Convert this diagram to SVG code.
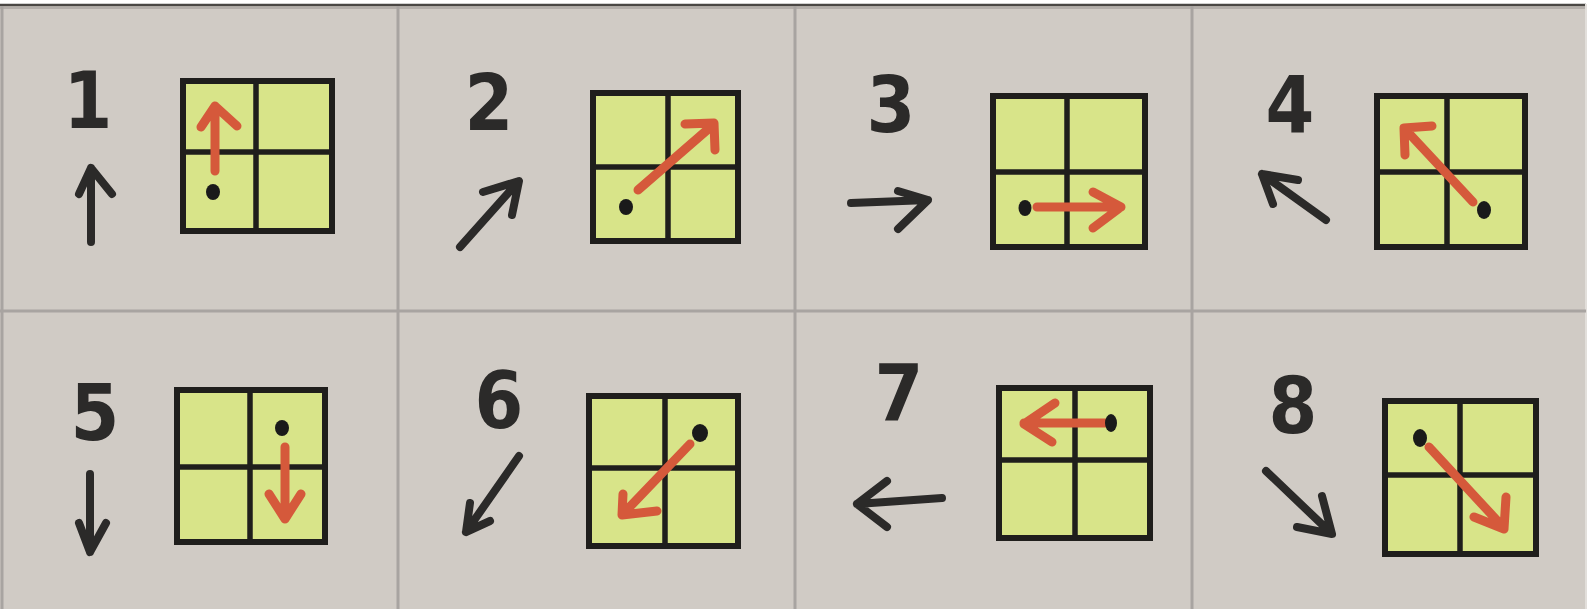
<svg xmlns="http://www.w3.org/2000/svg" width="1596" height="609" viewBox="0 0 1596 609">
<style>
.paper{fill:#d0cbc5}
.grid{stroke:#a8a4a1;stroke-width:3;fill:none}
.num{font-family:"DejaVu Sans Condensed","DejaVu Sans",sans-serif;font-weight:bold;font-size:78px;fill:#2b2a29;text-anchor:middle}
.blk{stroke:#2b2a29;stroke-width:8;fill:none;stroke-linecap:round;stroke-linejoin:round}
.sq{fill:#d8e489;stroke:#1f1e1c;stroke-width:6}
.div{stroke:#1f1e1c;stroke-width:5.5}
.red{stroke:#d5593b;stroke-width:9;fill:none;stroke-linecap:round;stroke-linejoin:round}
.dot{fill:#1a1a1a}
</style>
<rect width="1596" height="609" fill="#ffffff"/>
<rect class="paper" x="0" y="4" width="1586" height="605"/>
<line x1="0" y1="5" x2="1586" y2="5" stroke="#4a4744" stroke-width="2.5"/>
<line x1="0" y1="8" x2="1586" y2="8" stroke="#b3aeaa" stroke-width="2"/>
<line x1="1586" y1="4" x2="1586" y2="609" stroke="#e2dfdb" stroke-width="2"/>
<g id="grid">
<line class="grid" x1="2" y1="6" x2="2" y2="609"/>
<line class="grid" x1="398" y1="6" x2="398" y2="609"/>
<line class="grid" x1="795" y1="6" x2="795" y2="609"/>
<line class="grid" x1="1192" y1="6" x2="1192" y2="609"/>
<line class="grid" x1="0" y1="311" x2="1586" y2="311"/>
</g>
<g id="cell1">
<text class="num" x="88" y="128">1</text>
<path class="blk" d="M91 242 V168 M79 194 L91 168 L112 194"/>
<rect class="sq" x="183" y="81" width="149" height="150"/>
<line class="div" x1="256" y1="81" x2="256" y2="231"/>
<line class="div" x1="183" y1="152" x2="332" y2="152"/>
<path class="red" d="M215 171 V106 M201 127 L215 106 L237 126"/>
<ellipse class="dot" cx="213" cy="192" rx="7" ry="8"/>
</g>
<g id="cell2">
<text class="num" x="489" y="130">2</text>
<path class="blk" d="M460 247 L518 182 M483 192 L519 181 L512 215"/>
<rect class="sq" x="593" y="93" width="145" height="148"/>
<line class="div" x1="668" y1="93" x2="668" y2="241"/>
<line class="div" x1="593" y1="167" x2="738" y2="167"/>
<path class="red" d="M638 190 L714 124 M685 124 L714 123 L715 150"/>
<ellipse class="dot" cx="626" cy="207" rx="7" ry="8"/>
</g>
<g id="cell3">
<text class="num" x="891" y="132">3</text>
<path class="blk" d="M851 203 L928 200 M898 191 L928 200 L898 229"/>
<rect class="sq" x="993" y="96" width="152" height="151"/>
<line class="div" x1="1067" y1="96" x2="1067" y2="247"/>
<line class="div" x1="993" y1="172" x2="1145" y2="172"/>
<path class="red" d="M1037 207 H1121 M1093 192 L1121 207 L1093 228"/>
<ellipse class="dot" cx="1025" cy="208" rx="6.5" ry="8"/>
</g>
<g id="cell4">
<text class="num" x="1290" y="132">4</text>
<path class="blk" d="M1326 220 L1262 174 M1298 180 L1262 174 L1273 204"/>
<rect class="sq" x="1377" y="96" width="148" height="151"/>
<line class="div" x1="1447" y1="96" x2="1447" y2="247"/>
<line class="div" x1="1377" y1="172" x2="1525" y2="172"/>
<path class="red" d="M1473 202 L1404 128 M1432 126 L1404 128 L1405 155"/>
<ellipse class="dot" cx="1484" cy="210" rx="7" ry="9"/>
</g>
<g id="cell5">
<text class="num" x="95" y="440">5</text>
<path class="blk" d="M90 474 V552 M79 523 L90 552 L106 523"/>
<rect class="sq" x="177" y="390" width="148" height="152"/>
<line class="div" x1="250" y1="390" x2="250" y2="542"/>
<line class="div" x1="177" y1="467" x2="325" y2="467"/>
<path class="red" d="M285 447 V519 M269 494 L285 519 L301 494"/>
<ellipse class="dot" cx="282" cy="428" rx="7" ry="8"/>
</g>
<g id="cell6">
<text class="num" x="499" y="428">6</text>
<path class="blk" d="M519 456 L466 532 M470 503 L466 532 L490 521"/>
<rect class="sq" x="589" y="396" width="149" height="150"/>
<line class="div" x1="665" y1="396" x2="665" y2="546"/>
<line class="div" x1="589" y1="468" x2="738" y2="468"/>
<path class="red" d="M690 444 L622 515 M623 494 L622 515 L657 511"/>
<ellipse class="dot" cx="700" cy="433" rx="8" ry="9"/>
</g>
<g id="cell7">
<text class="num" x="899" y="420">7</text>
<path class="blk" d="M942 498 L857 504 M887 481 L857 504 L887 527"/>
<rect class="sq" x="999" y="388" width="151" height="150"/>
<line class="div" x1="1075" y1="388" x2="1075" y2="538"/>
<line class="div" x1="999" y1="460" x2="1150" y2="460"/>
<path class="red" d="M1108 423 H1024 M1055 403 L1024 424 L1052 442"/>
<ellipse class="dot" cx="1111" cy="423" rx="6" ry="9"/>
</g>
<g id="cell8">
<text class="num" x="1293" y="433">8</text>
<path class="blk" d="M1266 471 L1331 533 M1322 496 L1332 534 L1297 527"/>
<rect class="sq" x="1385" y="401" width="151" height="153"/>
<line class="div" x1="1460" y1="401" x2="1460" y2="554"/>
<line class="div" x1="1385" y1="475" x2="1536" y2="475"/>
<path class="red" d="M1429 447 L1504 528 M1474 517 L1504 529 L1506 497"/>
<ellipse class="dot" cx="1420" cy="438" rx="7" ry="9"/>
</g>
</svg>
